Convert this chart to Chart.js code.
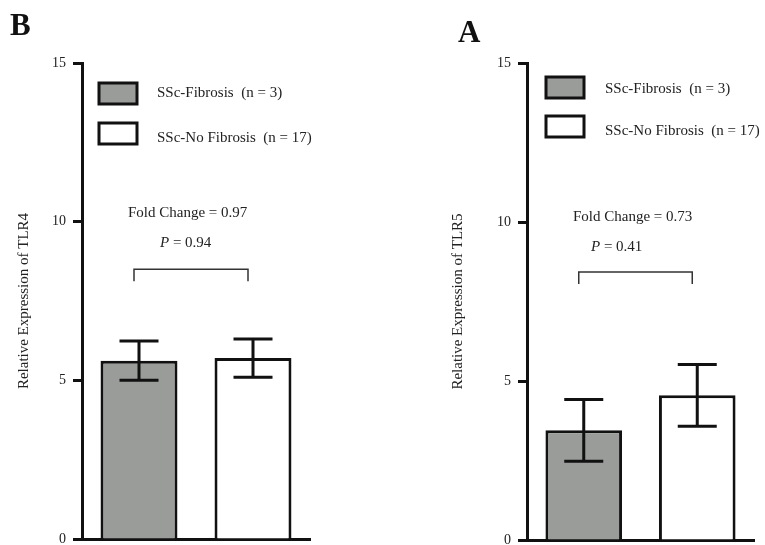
<!DOCTYPE html>
<html>
<head>
<meta charset="utf-8">
<script src="https://cdn.jsdelivr.net/npm/chart.js@4/dist/chart.umd.min.js"></script>
<style>
  body { margin: 0; background: #fff; overflow: hidden; }
  .painel { position: absolute; top: 0; height: 545px; }
  #painelB { left: 0; width: 400px; }
  #painelA { left: 400px; width: 365px; }
</style>
</head>
<body>
<div class="painel" id="painelB"><canvas id="graficoB"></canvas></div>
<div class="painel" id="painelA"><canvas id="graficoA"></canvas></div>
<script>
// dados
var grupos = ["SSc-Fibrosis  (n = 3)", "SSc-No Fibrosis  (n = 17)"];
var tlr4Media = [5.62, 5.70];
var tlr4Erro = [0.62, 0.60];
var tlr5Media = [3.45, 4.55];
var tlr5Erro = [0.97, 0.97];
var yTicks = [0, 5, 10, 15];
var tlr4Texto = ["Fold Change = 0.97", "0.94"];
var tlr5Texto = ["Fold Change = 0.73", "0.41"];

var fonte = "'Liberation Serif', 'Times New Roman', serif";
var cores = ["#9a9c9a", "#ffffff"];

// desenha barras de erro, legenda, anotacoes e letra do painel
var extras = {
	id: 'extras',
	afterDatasetsDraw: function(chart, args, o){
		var ctx = chart.ctx;
		var y = chart.scales.y;
		var ds = chart.data.datasets[0];
		var meta = chart.getDatasetMeta(0);

		ctx.save();
		ctx.strokeStyle = "#111";
		ctx.lineWidth = 3;
		meta.data.forEach(function(bar, i){
			var top = y.getPixelForValue(ds.data[i] + ds.erros[i]);
			var bot = y.getPixelForValue(ds.data[i] - ds.erros[i]);
			ctx.beginPath();
			ctx.moveTo(bar.x, top); ctx.lineTo(bar.x, bot);
			ctx.moveTo(bar.x - 19.5, top); ctx.lineTo(bar.x + 19.5, top);
			ctx.moveTo(bar.x - 19.5, bot); ctx.lineTo(bar.x + 19.5, bot);
			ctx.stroke();
		});

		// legenda
		ctx.textBaseline = "middle";
		ctx.textAlign = "left";
		ctx.fillStyle = "#222";
		chart.data.labels.forEach(function(lbl, i){
			ctx.fillStyle = cores[i];
			ctx.fillRect(o.boxX, o.boxY[i], 38, 21);
			ctx.strokeStyle = "#111";
			ctx.lineWidth = 3;
			ctx.strokeRect(o.boxX, o.boxY[i], 38, 21);
			ctx.fillStyle = "#222";
			ctx.font = "15px " + fonte;
			ctx.fillText(lbl, o.textX, o.textY[i]);
		});

		// fold change e P
		ctx.font = "15px " + fonte;
		ctx.fillText(o.texto[0], o.foldX, o.foldY);
		ctx.font = "italic 15px " + fonte;
		ctx.fillText("P", o.pX, o.pY);
		var w = ctx.measureText("P").width;
		ctx.font = "15px " + fonte;
		ctx.fillText(" = " + o.texto[1], o.pX + w, o.pY);

		// colchete
		var by = y.getPixelForValue(o.colchete);
		var x1 = meta.data[0].x - 5, x2 = meta.data[1].x - 5;
		ctx.strokeStyle = "#333";
		ctx.lineWidth = 1.5;
		ctx.beginPath();
		ctx.moveTo(x1, by + 12); ctx.lineTo(x1, by); ctx.lineTo(x2, by); ctx.lineTo(x2, by + 12);
		ctx.stroke();

		// letra
		ctx.fillStyle = "#111";
		ctx.font = "bold 31px " + fonte;
		ctx.fillText(o.letra, o.letraX, o.letraY);
		ctx.restore();
	}
};

function exibirGrafico(id, media, erro, titulo, extra, padding, larguraY){

	var type = 'bar';

	var data = {
		labels: grupos,
		datasets: [
			{
				data: media,
				erros: erro,
				backgroundColor: cores,
				borderColor: "#111",
				borderWidth: 3,
				barPercentage: 0.675,
				categoryPercentage: 1
			}
		]
	};

	var options = {
		responsive: true,
		maintainAspectRatio: false,
		animation: false,
		layout: { padding: padding },
		plugins: {
			legend: { display: false },
			tooltip: { enabled: false },
			extras: extra
		},
		scales: {
			x: {
				afterFit: function(s){ s.height = 0; },
				ticks: { display: false },
				grid: { display: false },
				border: { color: "#111", width: 3 }
			},
			y: {
				min: 0,
				max: 15,
				afterFit: function(s){
					s.width = larguraY;
					s.paddingTop = 0;
					s.paddingBottom = 0;
				},
				afterBuildTicks: function(s){ s.ticks = yTicks.map(function(v){ return { value: v }; }); },
				ticks: { color: "#222", padding: 7, font: { family: fonte, size: 14 } },
				grid: { drawOnChartArea: false, drawTicks: true, tickLength: 9, tickWidth: 3, tickColor: "#111" },
				border: { color: "#111", width: 3 },
				title: {
					display: true,
					text: titulo,
					color: "#222",
					padding: { top: 4, bottom: 0 },
					font: { family: fonte, size: 15 }
				}
			}
		}
	};

	var ctx = document.getElementById(id).getContext("2d");
	new Chart(ctx, { type: type, data: data, options: options, plugins: [extras] });
}

exibirGrafico("graficoB", tlr4Media, tlr4Erro, "Relative Expression of TLR4", {
	boxX: 99, boxY: [83, 123], textX: 157, textY: [93, 138],
	texto: tlr4Texto, foldX: 128, foldY: 213, pX: 160, pY: 243,
	colchete: 8.5, letra: "B", letraX: 10, letraY: 27
}, { left: 11, top: 63, right: 90, bottom: 6 }, 71);

exibirGrafico("graficoA", tlr5Media, tlr5Erro, "Relative Expression of TLR5", {
	boxX: 146, boxY: [77, 116], textX: 205, textY: [89, 131],
	texto: tlr5Texto, foldX: 173, foldY: 217, pX: 191, pY: 247,
	colchete: 8.43, letra: "A", letraX: 58, letraY: 34
}, { left: 45, top: 63, right: 11, bottom: 5 }, 82);
</script>
</body>
</html>
